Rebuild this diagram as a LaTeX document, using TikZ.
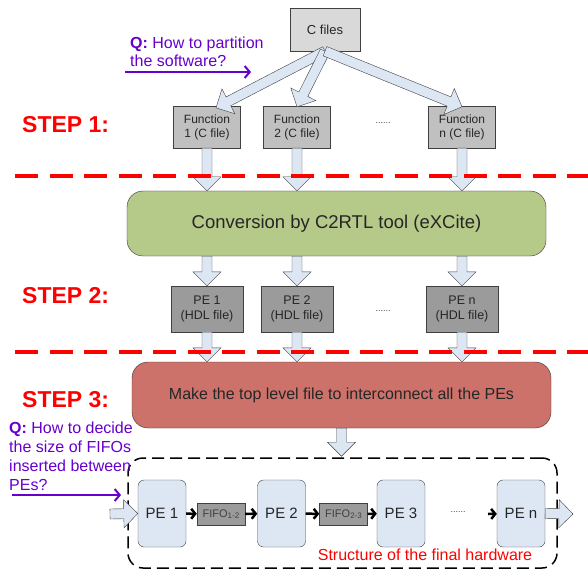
\documentclass[tikz,border=0pt]{standalone}
\usepackage{fontspec}
\setmainfont{Liberation Sans}
\usepackage{tikz}
\usetikzlibrary{arrows.meta, calc}

\definecolor{boxtext}{RGB}{38,38,38}
\definecolor{edgegray}{RGB}{64,64,64}
\definecolor{cfill}{RGB}{217,217,217}
\definecolor{ffill}{RGB}{192,192,192}
\definecolor{hdlfill}{RGB}{155,155,155}
\definecolor{convfill}{RGB}{181,201,137}
\definecolor{topfill}{RGB}{205,114,106}
\definecolor{pefill}{RGB}{221,231,244}
\definecolor{qcolor}{RGB}{102,0,204}

\newcommand{\fsz}[2]{\fontsize{#1}{#2}\selectfont}

\begin{document}
\begin{tikzpicture}[x=1pt, y=-1pt,
  filebox/.style={rectangle, draw=edgegray, text=boxtext, align=center, inner sep=0pt},
  bigbox/.style={rectangle, rounded corners=16pt, draw=black!80, text=boxtext, minimum width=419pt, minimum height=65pt},
  pebox/.style={rectangle, rounded corners=6pt, draw=edgegray, fill=pefill, text=boxtext, minimum width=48pt, minimum height=67pt, font=\fsz{15}{17}},
  fifobox/.style={rectangle, draw=edgegray, fill=hdlfill, text=black!75, minimum width=48pt, minimum height=22pt, inner sep=0pt, font=\fsz{11}{12}},
  steplabel/.style={anchor=west, inner sep=0pt, text=red, font=\fsz{23}{27}\bfseries},
  question/.style={anchor=west, align=left, inner sep=0pt, text=qcolor, font=\fsz{16}{18}},
  dotsep/.style={text=edgegray, font=\fsz{9}{10}},
  stepline/.style={red, line width=3.5pt, dash pattern=on 23pt off 11.5pt},
  link/.style={-{Straight Barb[length=4pt, width=10pt]}, line width=2.5pt},
  qarrow/.style={-{Straight Barb[length=5pt, width=12pt]}, qcolor, line width=2pt},
  blockarrow/.style={draw=edgegray, fill=pefill, line join=miter,
    to path={let \p1=(\tikztostart), \p2=(\tikztotarget),
      \n1={veclen(\x2-\x1,\y2-\y1)}, \n2={atan2(\y2-\y1,\x2-\x1)} in
      ($(\p1)+(\n2+90:5pt)$) -- ++(\n2:\n1-14pt) -- ++(\n2+90:9pt) -- (\p2)
      -- ++(\n2-135:19.8pt) -- ++(\n2+90:9pt) -- ++(\n2+180:\n1-14pt) -- cycle}}]
  \useasboundingbox (0,0) rectangle (588,569);

  % Nodes
  \node[filebox, fill=cfill, minimum width=70pt, minimum height=43pt, font=\fsz{13}{15}] (cfiles) at (325,29.5) {C files};
  \node[filebox, fill=ffill, minimum width=67pt, minimum height=42pt, font=\fsz{12}{14}] (f1) at (207,127) {Function\\1 (C file)};
  \node[filebox, fill=ffill, minimum width=67pt, minimum height=42pt, font=\fsz{12}{14}] (f2) at (297,127) {Function\\2 (C file)};
  \node[filebox, fill=ffill, minimum width=67pt, minimum height=42pt, font=\fsz{12}{14}] (fn) at (462,127) {Function\\n (C file)};
  \node[dotsep] (fdots) at (383,123) {......};

  \node[bigbox, fill=convfill, font=\fsz{18.5}{22}] (conv) at (336.5,223.5) {Conversion by C2RTL tool (eXCite)};

  \node[filebox, fill=hdlfill, minimum width=72pt, minimum height=46pt, font=\fsz{12.5}{15}] (hdl1) at (207,309) {PE 1\\(HDL file)};
  \node[filebox, fill=hdlfill, minimum width=72pt, minimum height=46pt, font=\fsz{12.5}{15}] (hdl2) at (297,309) {PE 2\\(HDL file)};
  \node[filebox, fill=hdlfill, minimum width=72pt, minimum height=46pt, font=\fsz{12.5}{15}] (hdln) at (462,309) {PE n\\(HDL file)};
  \node[dotsep] (hdots) at (383,311) {......};

  \node[bigbox, fill=topfill, minimum height=66pt, font=\fsz{16}{19}] (top) at (341.5,395) {Make the top level file to interconnect all the PEs};

  \node[rectangle, rounded corners=15pt, draw, line width=1.5pt, dash pattern=on 12pt off 6pt, minimum width=429pt, minimum height=110pt] (hw) at (342.5,513) {};
  \node[pebox] (pe1) at (162,513.5) {PE 1};
  \node[fifobox] (fifo12) at (221,514) {FIFO{\fsz{8}{8}\raisebox{-1.5pt}{1-2}}};
  \node[pebox] (pe2) at (281.5,513.5) {PE 2};
  \node[fifobox] (fifo23) at (343.5,514) {FIFO{\fsz{8}{8}\raisebox{-1.5pt}{2-3}}};
  \node[pebox] (pe3) at (401,513.5) {PE 3};
  \node[dotsep] (hwdots) at (458,512) {......};
  \node[pebox] (pen) at (521,513.5) {PE n};
  \node[text=red, font=\fsz{16}{18}] (hwlabel) at (425,555) {Structure of the final hardware};
  \coordinate (pendots) at (488,514);
  \coordinate (hwin) at (110,514);
  \coordinate (hwout) at (573,514);

  \node[steplabel] (step1) at (22,125) {STEP 1:};
  \node[steplabel] (step2) at (22,296) {STEP 2:};
  \node[steplabel] (step3) at (22,400) {STEP 3:};

  \node[question] (q1) at (130,51.5) {\textbf{Q:} How to partition\\the software?};
  \coordinate (q1a) at (125,72);
  \coordinate (q1b) at (251,72);
  \node[question, font=\fsz{16}{19}] (q2) at (9,456) {\textbf{Q:} How to decide\\the size of FIFOs\\inserted between\\PEs?};
  \coordinate (q2a) at (12,495);
  \coordinate (q2b) at (121,495);

  % Edges
  \draw[blockarrow] (cfiles.south) to ([xshift=9pt, yshift=-2pt]f1.north);
  \draw[blockarrow] (cfiles.south) to ([yshift=-1pt]f2.north);
  \draw[blockarrow] (cfiles.south) to ([yshift=-1pt]fn.north);
  \draw[blockarrow] (f1.south) to (f1.south |- conv.north);
  \draw[blockarrow] (f2.south) to (f2.south |- conv.north);
  \draw[blockarrow] (fn.south) to (fn.south |- conv.north);
  \draw[blockarrow] (hdl1.north |- conv.south) to (hdl1.north);
  \draw[blockarrow] (hdl2.north |- conv.south) to (hdl2.north);
  \draw[blockarrow] (hdln.north |- conv.south) to (hdln.north);
  \draw[blockarrow] (hdl1.south) to (hdl1.south |- top.north);
  \draw[blockarrow] (hdl2.south) to (hdl2.south |- top.north);
  \draw[blockarrow] (hdln.south) to (hdln.south |- top.north);
  \draw[blockarrow] (top.south) to ([yshift=1pt]top.south |- hw.north);
  \draw[blockarrow] (hwin) to (pe1.west);
  \draw[blockarrow] (pen.east) to (hwout);

  \draw[link] (pe1) -- (fifo12);
  \draw[link] (fifo12) -- (pe2);
  \draw[link] (pe2) -- (fifo23);
  \draw[link] (fifo23) -- (pe3);
  \draw[link] (pendots) -- (pen);

  \draw[qarrow] (q1a) -- (q1b);
  \draw[qarrow] (q2a) -- (q2b);

  % Separators
  \draw[stepline] (15,176) -- (588,176);
  \draw[stepline] (15,352) -- (588,352);
\end{tikzpicture}
\end{document}
